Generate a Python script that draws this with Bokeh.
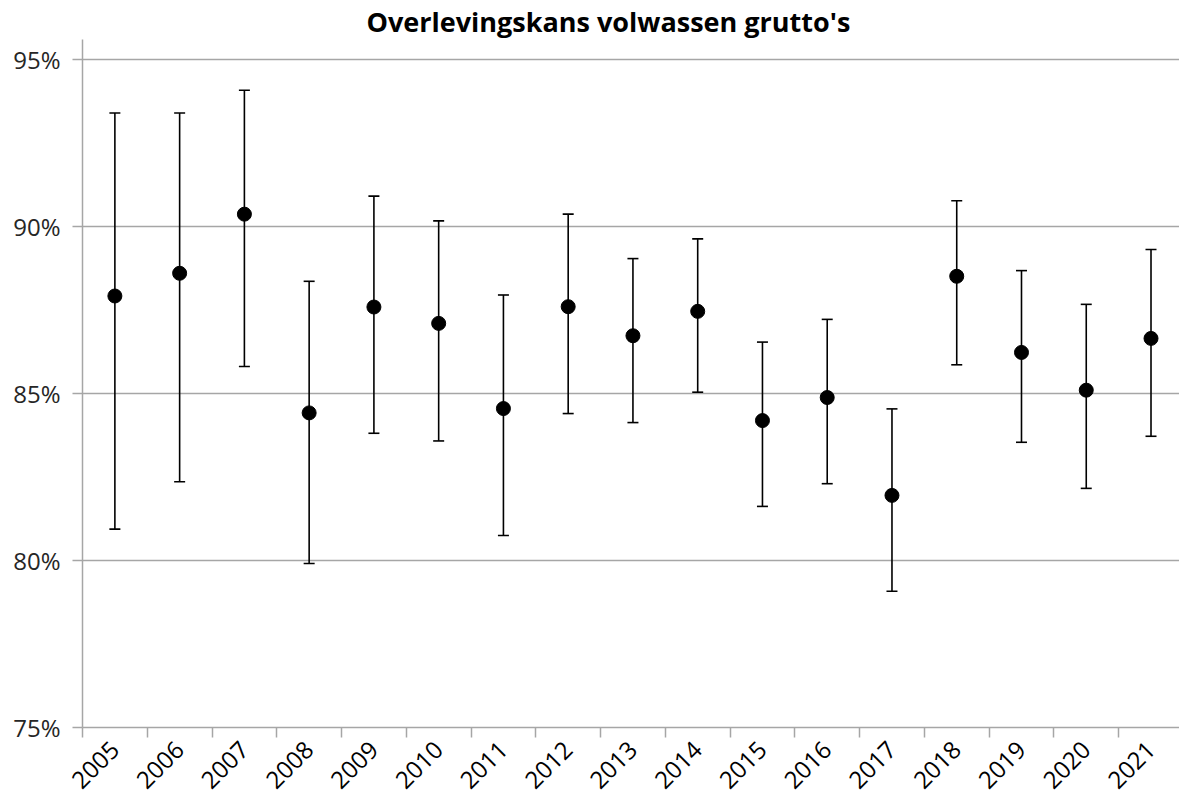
import math
from bokeh.plotting import figure
from bokeh.models import ColumnDataSource, Whisker, TeeHead, FixedTicker, Range1d
from bokeh.embed import file_html
from bokeh.resources import INLINE

# ---- data ----
years = ["2005", "2006", "2007", "2008", "2009", "2010", "2011", "2012", "2013",
         "2014", "2015", "2016", "2017", "2018", "2019", "2020", "2021"]
estimate = [87.92, 88.60, 90.37, 84.42, 87.59, 87.10, 84.55, 87.60, 86.73,
            87.46, 84.19, 84.88, 81.95, 88.51, 86.23, 85.10, 86.65]
upper = [93.40, 93.40, 94.08, 88.36, 90.91, 90.17, 87.95, 90.37, 89.04,
         89.63, 86.54, 87.22, 84.54, 90.77, 88.68, 87.67, 89.31]
lower = [80.94, 82.36, 85.81, 79.91, 83.81, 83.58, 80.75, 84.40, 84.13,
         85.04, 81.62, 82.30, 79.08, 85.86, 83.54, 82.16, 83.72]
y_ticks = [75, 80, 85, 90, 95]

FONT = "Open Sans"
GRID = "#A6A6A6"

xpos = list(range(len(years)))
src = ColumnDataSource(dict(x=xpos, est=estimate, upper=upper, lower=lower))

p = figure(width=1179, height=799, output_backend="svg", toolbar_location=None,
           x_range=Range1d(-0.5, len(years) - 0.56), y_range=Range1d(75, 95.6),
           min_border_left=82, min_border_right=0, min_border_bottom=72,
           min_border_top=0)

p.title.text = "Overlevingskans volwassen grutto's"
p.title.align = "left"
p.title.offset = 284
p.title.text_font = FONT
p.title.text_font_size = "27px"
p.title.text_font_style = "bold"
p.title.text_color = "black"
p.title.standoff = 0

p.outline_line_color = None
p.background_fill_color = "white"
p.border_fill_color = "white"

# grid
p.xgrid.visible = False
p.ygrid.ticker = FixedTicker(ticks=y_ticks)
p.ygrid.grid_line_color = GRID
p.ygrid.grid_line_width = 1.5

# x axis: tick marks between categories, labels at centres
p.xaxis.ticker = FixedTicker(ticks=xpos, minor_ticks=[i - 0.5 for i in range(len(years) + 1)])
p.xaxis.major_label_overrides = {i: yr for i, yr in enumerate(years)}
p.xaxis.major_tick_line_color = None
p.xaxis.major_tick_out = 10
p.xaxis.major_tick_in = 0
p.xaxis.minor_tick_line_color = GRID
p.xaxis.minor_tick_line_width = 1.5
p.xaxis.minor_tick_out = 10
p.xaxis.minor_tick_in = 0
p.xaxis.axis_line_color = GRID
p.xaxis.axis_line_width = 1.5
p.xaxis.major_label_orientation = math.pi / 4
p.xaxis.major_label_text_font = FONT
p.xaxis.major_label_text_font_size = "24px"
p.xaxis.major_label_text_color = "black"
p.xaxis.major_label_standoff = 8

# y axis
p.yaxis.ticker = FixedTicker(ticks=y_ticks)
p.yaxis.major_label_overrides = {t: f"{t}%" for t in y_ticks}
p.yaxis.major_tick_line_color = GRID
p.yaxis.major_tick_line_width = 1.5
p.yaxis.major_tick_out = 10
p.yaxis.major_tick_in = 0
p.yaxis.minor_tick_line_color = None
p.yaxis.axis_line_color = GRID
p.yaxis.axis_line_width = 1.5
p.yaxis.major_label_text_font = FONT
p.yaxis.major_label_text_font_size = "24px"
p.yaxis.major_label_text_color = "#262626"
p.yaxis.major_label_standoff = 12

# error bars
whisk = Whisker(base="x", upper="upper", lower="lower", source=src,
                line_color="black", line_width=1.6,
                upper_head=TeeHead(size=11, line_color="black", line_width=1.6),
                lower_head=TeeHead(size=11, line_color="black", line_width=1.6))
p.add_layout(whisk)

# points
p.scatter("x", "est", source=src, size=14, fill_color="black", line_color="black")

open("out.html", "w").write(file_html(p, INLINE))
